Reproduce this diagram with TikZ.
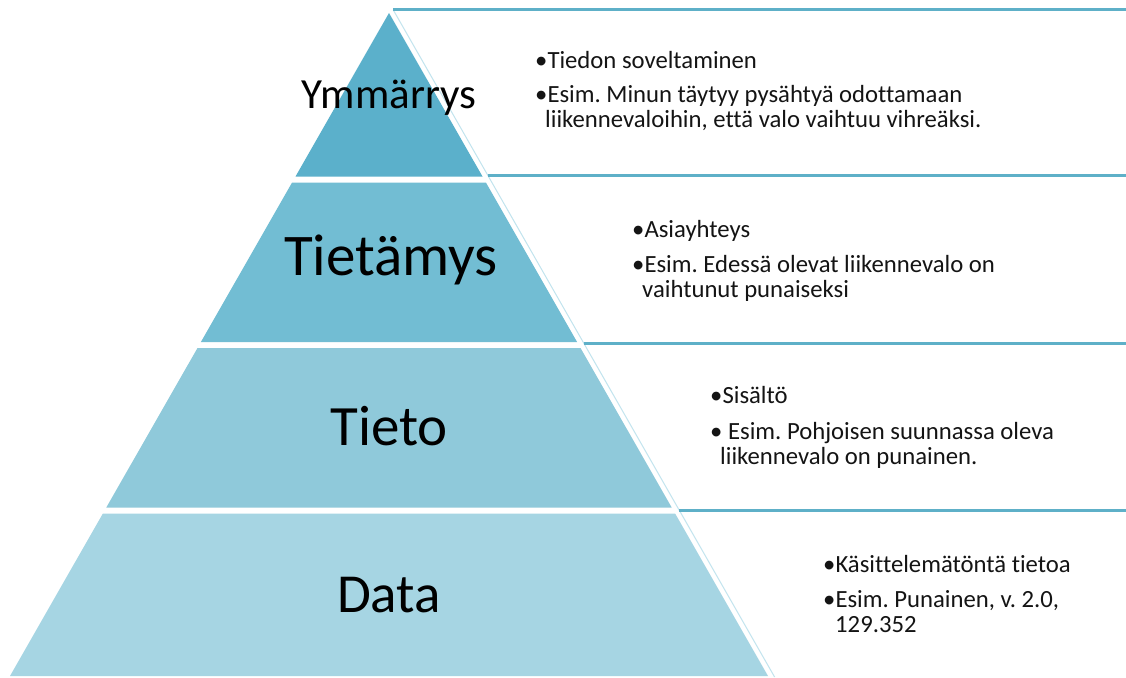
\documentclass[tikz,border=0pt]{standalone}
\usepackage{fontspec}
\setmainfont{Carlito}[Ligatures={NoCommon}]
\frenchspacing
\definecolor{bandA}{HTML}{5BB0CB}
\definecolor{bandB}{HTML}{72BDD3}
\definecolor{bandC}{HTML}{8FC9DA}
\definecolor{bandD}{HTML}{A6D5E3}
\definecolor{lineblue}{HTML}{5EB0C8}
\definecolor{edgeblue}{HTML}{C2E4EE}
\begin{document}
\begin{tikzpicture}[x=1pt,y=-1pt,
  boxline/.style={draw=lineblue, line width=3pt},
  boxedge/.style={draw=edgeblue, line width=1pt},
  lbl/.style={anchor=base, inner sep=0pt, text=black},
  txt/.style={anchor=base west, align=left, inner sep=0pt, text=black!92,
    font=\fontsize{24.7}{25}\selectfont}]
\useasboundingbox[fill=white] (0,0) rectangle (1126,677);
% right-hand boxes
\coordinate (e0) at (393.3,10);
\coordinate (e1) at (487.6,175);
\coordinate (e2) at (583.7,343);
\coordinate (e3) at (679.1,510);
\coordinate (e4) at (774.6,677);
\coordinate (r0) at (1126,10);
\coordinate (r1) at (1126,175);
\coordinate (r2) at (1126,343);
\coordinate (r3) at (1126,510);
\draw[boxedge] (e0) -- (e4);
\draw[boxline] (e0) -- (r0);
\draw[boxline] (e1) -- (r1);
\draw[boxline] (e2) -- (r2);
\draw[boxline] (e3) -- (r3);
% pyramid bands
\fill[bandA] (389,13) -- (482.5,176.5) -- (295.5,176.5) -- cycle;
\fill[bandB] (292.1,182.5) -- (485.9,182.5) -- (577.1,342) -- (200.9,342) -- cycle;
\fill[bandC] (197.5,348) -- (580.5,348) -- (671.7,507.5) -- (106.3,507.5) -- cycle;
\fill[bandD] (102.9,513.5) -- (675.1,513.5) -- (768,676) -- (10,676) -- cycle;
% pyramid labels
\node[lbl, font=\fontsize{43}{43}\selectfont] (ymm) at (389,108) {Ymmärrys};
\node[lbl, font=\fontsize{59}{59}\selectfont] (tma) at (391,275) {Tietämys};
\node[lbl, font=\fontsize{57}{57}\selectfont] (tto) at (389,445) {Tieto};
\node[lbl, font=\fontsize{55}{55}\selectfont] (dat) at (389,612) {Data};
% box texts (multi-line nodes are placed by their last baseline)
\node[txt] (t1a) at (535,68) {•Tiedon soveltaminen};
\node[txt] (t1b) at (535,127) {•Esim. Minun täytyy pysähtyä odottamaan\\\hspace*{10pt}liikennevaloihin, että valo vaihtuu vihreäksi.};
\node[txt] (t2a) at (632,237) {•Asiayhteys};
\node[txt] (t2b) at (632,297) {•Esim. Edessä olevat liikennevalo on\\\hspace*{10pt}vaihtunut punaiseksi};
\node[txt] (t3a) at (710,403) {•Sisältö};
\node[txt] (t3b) at (710,464) {• Esim. Pohjoisen suunnassa oleva\\\hspace*{10pt}liikennevalo on punainen.};
\node[txt] (t4a) at (823,572) {•Käsittelemätöntä tietoa};
\node[txt] (t4b) at (823,632) {•Esim. Punainen, v. 2.0,\\\hspace*{12pt}129.352};
\end{tikzpicture}
\end{document}
